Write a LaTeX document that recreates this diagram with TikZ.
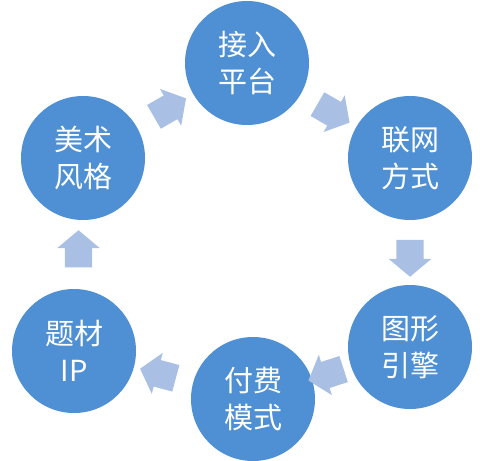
\documentclass[tikz,border=0pt]{standalone}
\usepackage{fontspec}
\newfontfamily\cjk{Noto Sans CJK SC}
\usetikzlibrary{shapes.arrows, calc}

\definecolor{stepblue}{RGB}{78,144,211}
\definecolor{arrowblue}{RGB}{169,192,228}

\begin{document}
\begin{tikzpicture}[x=1pt, y=-1pt,
  topic/.style={circle, fill=stepblue, minimum size=124pt, inner sep=0pt, text=white, align=center, font=\cjk\fontsize{29}{37}\selectfont},
  flow/.style={single arrow, fill=arrowblue, draw=none, inner xsep=0pt, inner ysep=13.5pt, minimum height=37pt, single arrow head extend=7.5pt, single arrow tip angle=100}]
\useasboundingbox[fill=white] (0,0) rectangle (489,460);
% the six circles, clockwise from the top
\node[topic] (jr) at (247,63)  {接入\\平台};
\node[topic] (lw) at (410,158) {联网\\方式};
\node[topic] (tx) at (410,347) {图形\\引擎};
\node[topic] (ff) at (253,399) {付费\\模式};
\node[topic] (tc) at (74,351)  {题材\\IP};
\node[topic] (ms) at (83,158)  {美术\\风格};
% arrows between them
\node[flow, rotate=30]  (a1) at ($(ms)!0.5!(jr)$) {};
\node[flow, rotate=-30] (a2) at ($(jr)!0.5!(lw)$) {};
\node[flow, rotate=-90] (a3) at ($(lw)!0.5!(tx)$) {};
\node[flow, rotate=198] (a4) at ($(tx)!0.5!(ff)$) {};
\node[flow, rotate=165] (a5) at ($(ff)!0.5!(tc)$) {};
\node[flow, rotate=90]  (a6) at ($(tc)!0.5!(ms)$) {};
\end{tikzpicture}
\end{document}
